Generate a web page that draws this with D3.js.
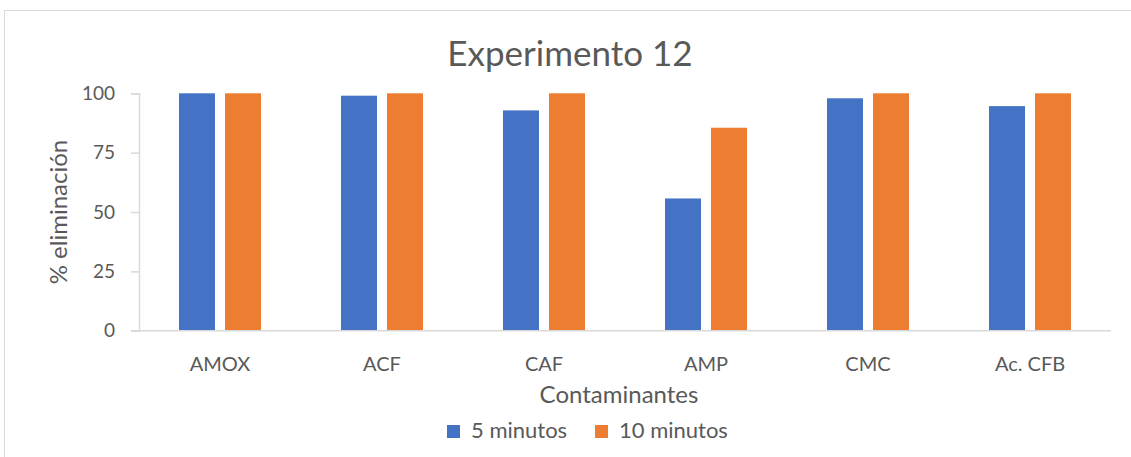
<!DOCTYPE html>
<html>
<head>
<meta charset="utf-8">
<script src="https://cdn.jsdelivr.net/npm/d3@7"></script>
<style>
  html, body { margin: 0; padding: 0; background: #fff; }
  svg { display: block; font-family: Lato, "Open Sans", sans-serif; }
</style>
</head>
<body>
<svg id="chart" width="1131" height="457"></svg>
<script>
// Removal percentage per contaminant at two contact times
const categories = ["AMOX", "ACF", "CAF", "AMP", "CMC", "Ac. CFB"];
const seriesNames = ["5 minutos", "10 minutos"];
const values5min = [100, 99, 92.8, 55.7, 97.9, 94.6];
const values10min = [100, 100, 100, 85.5, 100, 100];
const yTicks = [0, 25, 50, 75, 100];
const colors = ["#4472C4", "#ED7D31"];

const textColor = "#595959";
const svg = d3.select("#chart");

// outer chart frame
svg.append("rect")
  .attr("x", 4.5).attr("y", 10.5)
  .attr("width", 1140).attr("height", 460)
  .attr("fill", "#fff").attr("stroke", "#d9d9d9").attr("stroke-width", 1);

const plot = { left: 139, right: 1111, top: 93.3, bottom: 330.7 };

const x0 = d3.scaleBand().domain(categories).range([plot.left, plot.right]).paddingInner(0).paddingOuter(0);
const barW = 36, gap = 10;
const y = d3.scaleLinear().domain([0, 100]).range([plot.bottom, plot.top]);

// title
svg.append("text")
  .attr("x", 570).attr("y", 65.5)
  .attr("text-anchor", "middle")
  .attr("font-size", 35).attr("fill", textColor)
  .text("Experimento 12");

// y axis
const yAxis = svg.append("g")
  .attr("transform", `translate(${plot.left},0)`)
  .call(d3.axisLeft(y).tickValues(yTicks).tickSize(8).tickPadding(16).tickFormat(d3.format("d")));
yAxis.select(".domain").attr("stroke", "#d9d9d9").attr("stroke-width", 1.5);
yAxis.selectAll(".tick line").attr("stroke", "#d9d9d9").attr("stroke-width", 1.5);
yAxis.selectAll(".tick text").attr("fill", textColor).attr("font-size", 19)
  .attr("font-family", "Lato, sans-serif");

// bars
const data = categories.map((c, i) => ({ cat: c, vals: [values5min[i], values10min[i]] }));
const groups = svg.append("g").selectAll("g").data(data).join("g");
groups.selectAll("rect")
  .data(d => d.vals.map((v, k) => ({ cat: d.cat, v, k })))
  .join("rect")
  .attr("x", d => x0(d.cat) + x0.bandwidth() / 2 - barW - gap / 2 + d.k * (barW + gap))
  .attr("y", d => y(d.v))
  .attr("width", barW)
  .attr("height", d => y(0) - y(d.v))
  .attr("fill", d => colors[d.k]);

// x axis
const xAxis = svg.append("g")
  .attr("transform", `translate(0,${plot.bottom})`)
  .call(d3.axisBottom(x0).tickSize(0).tickPadding(26));
xAxis.select(".domain").remove();
svg.append("line")
  .attr("x1", plot.left - 8).attr("x2", plot.right)
  .attr("y1", plot.bottom).attr("y2", plot.bottom)
  .attr("stroke", "#d9d9d9").attr("stroke-width", 1.5);
xAxis.selectAll(".tick text").attr("fill", textColor).attr("font-size", 20)
  .attr("font-family", "Lato, sans-serif");

// axis titles
svg.append("text")
  .attr("x", (plot.left + plot.right) / 2 - 6).attr("y", 403)
  .attr("text-anchor", "middle").attr("font-size", 24).attr("fill", textColor)
  .text("Contaminantes");
svg.append("text")
  .attr("transform", `translate(67,${(plot.top + plot.bottom) / 2}) rotate(-90)`)
  .attr("text-anchor", "middle").attr("font-size", 24).attr("fill", textColor)
  .text("% eliminación");

// legend
const legendItems = [{ x: 447, tx: 471 }, { x: 595, tx: 619 }];
const legend = svg.append("g").selectAll("g").data(seriesNames).join("g");
legend.append("rect")
  .attr("x", (d, i) => legendItems[i].x).attr("y", 425)
  .attr("width", 13).attr("height", 13)
  .attr("fill", (d, i) => colors[i]);
legend.append("text")
  .attr("x", (d, i) => legendItems[i].tx).attr("y", 438)
  .attr("font-size", 22).attr("fill", textColor)
  .text(d => d);
</script>
</body>
</html>
